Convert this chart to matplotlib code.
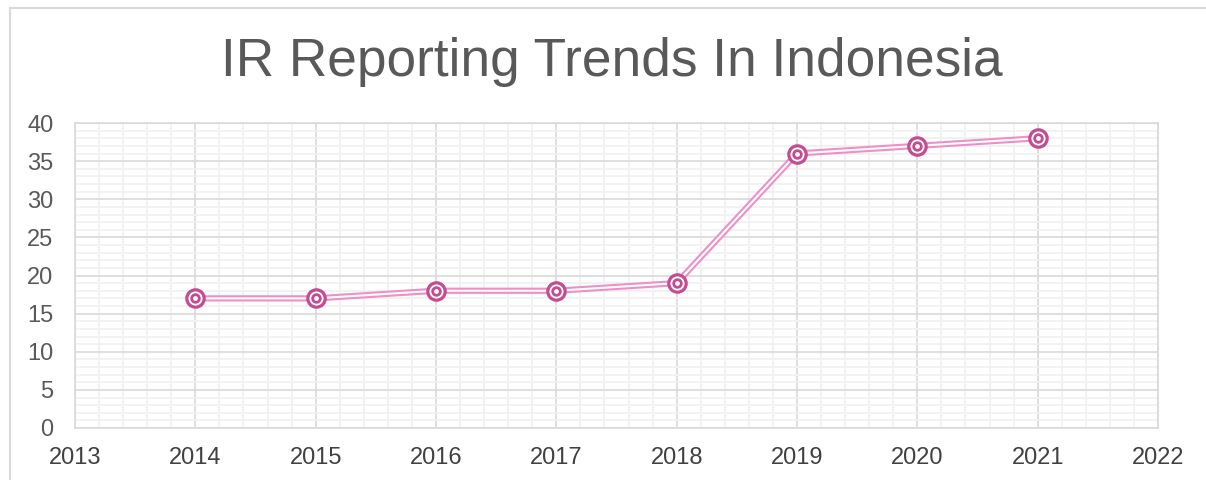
import matplotlib
matplotlib.use("Agg")
import matplotlib.pyplot as plt
from matplotlib.ticker import MultipleLocator
from matplotlib.lines import Line2D

years = [2014, 2015, 2016, 2017, 2018, 2019, 2020, 2021]
reports = [17, 17, 18, 18, 19, 36, 37, 38]
title = "IR Reporting Trends In Indonesia"

plt.rcParams['font.family'] = ['Liberation Sans', 'DejaVu Sans']

W, H = 1206, 480
fig = plt.figure(figsize=(W / 100, H / 100), dpi=100)
ax = fig.add_axes([75 / W, 52 / H, (1158 - 75) / W, (428 - 123) / H])

ax.set_xlim(2013, 2022)
ax.set_ylim(0, 40)
ax.xaxis.set_major_locator(MultipleLocator(1))
ax.xaxis.set_minor_locator(MultipleLocator(0.2))
ax.yaxis.set_major_locator(MultipleLocator(5))
ax.yaxis.set_minor_locator(MultipleLocator(1))
ax.grid(which='minor', color='#f0f0f0', linewidth=1.2)
ax.grid(which='major', color='#d9d9d9', linewidth=1.2)
ax.set_axisbelow(True)
for s in ax.spines.values():
    s.set_color('#d9d9d9')
    s.set_linewidth(1.2)
ax.tick_params(which='both', length=0)
ax.tick_params(axis='y', labelsize=17, labelcolor='#595959', pad=15.5)
ax.tick_params(axis='x', labelsize=17, labelcolor='#404040', pad=13.5)

ax.plot(years, reports, color='#ee8fc8', linewidth=4.5, solid_capstyle='round', zorder=3)
ax.plot(years, reports, color='white', linewidth=1.5, zorder=4)
ax.plot(years, reports, linestyle='none', marker='o', markersize=12.5,
        markerfacecolor='white', markeredgecolor='#c44b91', markeredgewidth=2.3, zorder=5)
ax.plot(years, reports, linestyle='none', marker='o', markersize=5.5,
        markerfacecolor='white', markeredgecolor='#c44b91', markeredgewidth=2.0, zorder=6)

fig.text(612 / W, 1 - 62 / H, title, ha='center', va='center', fontsize=38.3, color='#595959')

fig.add_artist(Line2D([10 / W, 10 / W], [0, 1 - 8 / H], color='#d9d9d9', linewidth=1.5))
fig.add_artist(Line2D([10 / W, 1], [1 - 8 / H, 1 - 8 / H], color='#d9d9d9', linewidth=1.5))

fig.savefig('out.png', dpi=100)
